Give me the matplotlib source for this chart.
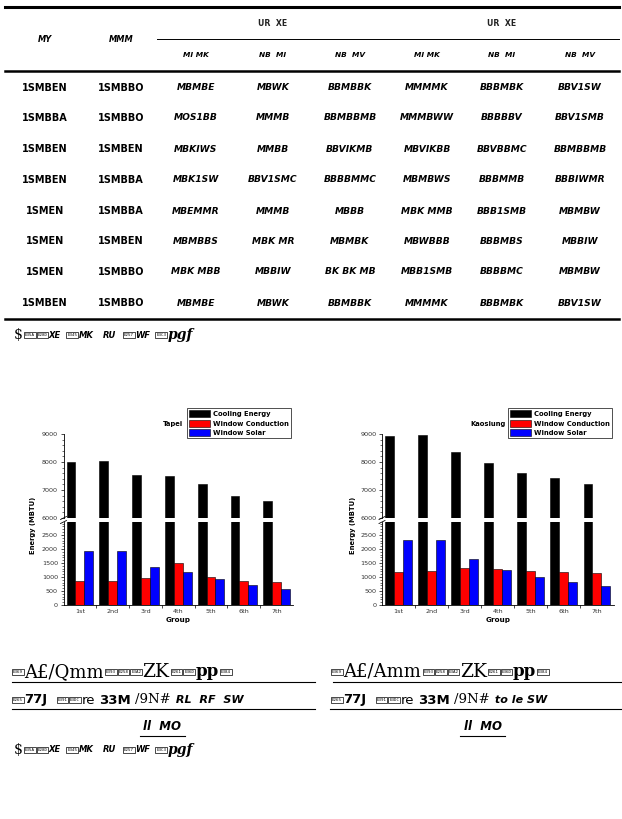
import matplotlib
matplotlib.use('Agg')
import numpy as np
import matplotlib.pyplot as plt
from matplotlib import font_manager
from matplotlib.lines import Line2D
from matplotlib.ticker import MultipleLocator, FixedLocator, NullLocator

W, H = 622, 819

# chart data
groups = ['1st', '2nd', '3rd', '4th', '5th', '6th', '7th']
series_names = ['Cooling Energy', 'Window Conduction', 'Window Solar']
series_colors = ['black', 'red', 'blue']

tapei_cooling = [8000, 8030, 7550, 7510, 7200, 6770, 6600]
tapei_conduction = [850, 870, 960, 1510, 990, 850, 820]
tapei_solar = [1930, 1930, 1370, 1180, 930, 700, 560]

kaosiung_cooling = [8920, 8960, 8360, 7950, 7600, 7420, 7220]
kaosiung_conduction = [1180, 1210, 1310, 1280, 1200, 1170, 1130]
kaosiung_solar = [2310, 2320, 1630, 1250, 990, 820, 680]

# table text, as it shows in the scan (font glyphs are garbled)
head_left = ['MY', 'MMM']
head_group = ['UR  XE', 'UR  XE']
head_sub = ['MI MK', 'NB  MI', 'NB  MV', 'MI MK', 'NB  MI', 'NB  MV']
col_a = ['1SMBEN', '1SMBBA', '1SMBEN', '1SMBEN', '1SMEN', '1SMEN', '1SMEN', '1SMBEN']
col_b = ['1SMBBO', '1SMBBO', '1SMBEN', '1SMBBA', '1SMBBA', '1SMBEN', '1SMBBO', '1SMBBO']
cells = [
    ['MBMBE', 'MBWK', 'BBMBBK', 'MMMMK', 'BBBMBK', 'BBV1SW'],
    ['MOS1BB', 'MMMB', 'BBMBBMB', 'MMMBWW', 'BBBBBV', 'BBV1SMB'],
    ['MBKIWS', 'MMBB', 'BBVIKMB', 'MBVIKBB', 'BBVBBMC', 'BBMBBMB'],
    ['MBK1SW', 'BBV1SMC', 'BBBBMMC', 'MBMBWS', 'BBBMMB', 'BBBIWMR'],
    ['MBEMMR', 'MMMB', 'MBBB', 'MBK MMB', 'BBB1SMB', 'MBMBW'],
    ['MBMBBS', 'MBK MR', 'MBMBK', 'MBWBBB', 'BBBMBS', 'MBBIW'],
    ['MBK MBB', 'MBBIW', 'BK BK MB', 'MBB1SMB', 'BBBBMC', 'MBMBW'],
    ['MBMBE', 'MBWK', 'BBMBBK', 'MMMMK', 'BBBMBK', 'BBV1SW'],
]

names = {f.name for f in font_manager.fontManager.ttflist}
if 'Liberation Sans Narrow' in names:
    narrow, cell_size, first_size = 'Liberation Sans Narrow', 9, 9.5
else:
    narrow, cell_size, first_size = 'DejaVu Sans', 6.6, 7

fig = plt.figure(figsize=(W / 100, H / 100), dpi=100)


def px(x, y):
    return x / W, 1 - y / H


def hline(x0, x1, y, lw):
    fig.add_artist(Line2D([x0 / W, x1 / W], [1 - y / H, 1 - y / H], color='black', lw=lw))


# ---- table ----
hline(5, 619, 7, 2.2)
hline(157, 619, 39, 0.7)
hline(5, 619, 71, 1.8)
hline(5, 619, 319, 1.8)

col_x = [45, 121, 196, 273, 350, 427, 502, 580]
row_y = [88, 118, 149, 180, 211, 241, 272, 303]

for x, s in zip(col_x[:2], head_left):
    fig.text(*px(x, 39), s, ha='center', va='center', family=narrow, fontsize=cell_size * 0.9,
             style='italic', weight='bold')
for x, s in zip([273, 502], head_group):
    fig.text(*px(x, 24), s, ha='center', va='center', family=narrow, fontsize=cell_size * 0.85,
             weight='bold', color='#222222')
for x, s in zip(col_x[2:], head_sub):
    fig.text(*px(x, 55), s, ha='center', va='center', family=narrow, fontsize=cell_size * 0.8,
             style='italic', weight='bold')
for i, y in enumerate(row_y):
    fig.text(*px(col_x[0], y), col_a[i], ha='center', va='center', family=narrow,
             fontsize=first_size, weight='bold')
    fig.text(*px(col_x[1], y), col_b[i], ha='center', va='center', family=narrow,
             fontsize=first_size, weight='bold')
    for j, s in enumerate(cells[i]):
        fig.text(*px(col_x[j + 2], y), s, ha='center', va='center', family=narrow,
                 fontsize=cell_size, style='italic', weight='bold')


# ---- garbled caption runs ----
renderer = fig.canvas.get_renderer()
serif = dict(family='DejaVu Serif')


def run(x, y, tokens):
    for tok in tokens:
        kind = tok[0]
        if kind == 'gap':
            x += tok[1]
            continue
        if kind == 'box':
            t = fig.text(*px(x + 1, y), tok[1], fontsize=3.0, family='DejaVu Sans Mono',
                         ha='left', va='center',
                         bbox=dict(boxstyle='square,pad=0.2', fc='white', ec='black', lw=0.5))
            x += t.get_window_extent(renderer).width + 2.5
        else:
            kw = dict(tok[2])
            t = fig.text(*px(x, y + kw.pop('dy', 0)), tok[1], ha='left', va='center', **kw)
            x += t.get_window_extent(renderer).width + 1


def caption(x0, y_mid, first, tail):
    run(x0, 672, [('box', 'E369'), ('txt', first, dict(fontsize=13, **serif)),
                  ('box', 'E393'), ('box', 'E258'), ('box', 'E3A2'),
                  ('txt', 'ZK', dict(fontsize=13.5, **serif)),
                  ('box', 'E261'), ('box', 'E36D'),
                  ('txt', 'pp', dict(fontsize=12, weight='bold', **serif)),
                  ('box', 'E384')])
    run(x0, 700, [('box', 'E265'), ('txt', '77J', dict(fontsize=9.5, weight='bold')),
                  ('gap', 8), ('box', 'E391'), ('box', 'E3DC'),
                  ('txt', 're', dict(fontsize=9.5)),
                  ('gap', 3),
                  ('txt', '33M', dict(fontsize=9.5, weight='bold')),
                  ('gap', 3),
                  ('txt', '/9N#', dict(fontsize=9.5, **serif)),
                  ('txt', tail, dict(fontsize=8, family=narrow, weight='bold', style='italic'))])
    fig.text(*px(y_mid, 727), 'll  MO', ha='center', va='center', fontsize=8.5,
             family=narrow, weight='bold', style='italic')


def dollar_line(y):
    run(14, y, [('txt', '$', dict(fontsize=10, **serif)), ('box', 'E35A'), ('box', 'E28D'),
                ('txt', 'XE', dict(fontsize=6, family=narrow, weight='bold', style='italic')),
                ('gap', 4), ('box', 'E345'),
                ('txt', 'MK', dict(fontsize=6, family=narrow, weight='bold', style='italic')),
                ('gap', 8),
                ('txt', 'RU', dict(fontsize=6, family=narrow, weight='bold', style='italic')),
                ('gap', 6), ('box', 'E257'),
                ('txt', 'WF', dict(fontsize=6, family=narrow, weight='bold', style='italic')),
                ('gap', 4), ('box', 'E3C3'),
                ('txt', 'pgf', dict(fontsize=10, weight='bold', style='italic', **serif))])


dollar_line(335)
caption(12, 162, 'A£/Qmm', ' RL  RF  SW')
caption(331, 483, 'A£/Amm', ' to le SW')
hline(12, 315, 682, 0.8)
hline(12, 315, 709, 0.8)
hline(333, 622, 682, 0.8)
hline(330, 622, 709, 0.8)
hline(140, 185, 736, 0.8)
hline(460, 505, 736, 0.8)
dollar_line(750)


# ---- broken-axis bar charts ----
def chart(x0, x1, title, title_x, ylabel_x, legend_x, cooling, conduction, solar):
    top, brk_hi, brk_lo, bottom = 434, 518, 522, 605
    ax_up = fig.add_axes([x0 / W, 1 - brk_hi / H, (x1 - x0) / W, (brk_hi - top) / H])
    ax_lo = fig.add_axes([x0 / W, 1 - bottom / H, (x1 - x0) / W, (bottom - brk_lo) / H])
    x = np.arange(len(groups))
    w = 0.27
    for ax in (ax_up, ax_lo):
        for k, vals in enumerate([cooling, conduction, solar]):
            ax.bar(x + (k - 1) * w, vals, w, color=series_colors[k], edgecolor='black',
                   linewidth=0.4, label=series_names[k])
        ax.set_xlim(-0.5, len(groups) - 0.5)
        ax.spines['top'].set_visible(False)
        ax.spines['right'].set_visible(False)
        ax.spines['left'].set_linewidth(0.6)
        ax.spines['bottom'].set_linewidth(0.6)
        ax.tick_params(axis='y', which='major', direction='out', length=2.5, width=0.5,
                       labelsize=4.6, labelcolor='#333333', pad=1.5)
        ax.tick_params(axis='y', which='minor', direction='out', length=1.3, width=0.4)
    ax_up.set_ylim(6000, 9000)
    ax_up.yaxis.set_major_locator(MultipleLocator(1000))
    ax_up.yaxis.set_minor_locator(MultipleLocator(200))
    ax_up.spines['bottom'].set_visible(False)
    ax_up.xaxis.set_major_locator(NullLocator())
    ax_up.xaxis.set_minor_locator(NullLocator())

    ax_lo.set_ylim(0, 2960)
    ax_lo.yaxis.set_major_locator(MultipleLocator(500))
    ax_lo.yaxis.set_minor_locator(MultipleLocator(100))
    ax_lo.set_xticks(x)
    ax_lo.set_xticklabels(groups)
    ax_lo.xaxis.set_minor_locator(FixedLocator(x[:-1] + 0.5))
    ax_lo.tick_params(axis='x', which='major', length=0, labelsize=4.6,
                      labelcolor='#333333', pad=3)
    ax_lo.tick_params(axis='x', which='minor', direction='out', length=2.5, width=0.5)
    ax_lo.set_xlabel('Group', fontsize=5.2, weight='bold', labelpad=2)

    # break marks on the y axis
    for yb in (brk_hi, brk_lo):
        fig.add_artist(Line2D([(x0 - 3) / W, (x0 + 3) / W],
                              [1 - (yb + 1.5) / H, 1 - (yb - 1.5) / H], color='black', lw=0.6))

    fig.text(*px(ylabel_x, 525), 'Energy (MBTU)', rotation=90, ha='center', va='center',
             fontsize=4.9, weight='bold')
    fig.text(*px(title_x, 424), title, ha='center', va='center', fontsize=4.9, weight='bold')

    handles, labels = ax_up.get_legend_handles_labels()
    leg = ax_up.legend(handles, labels, loc='upper left', bbox_to_anchor=px(legend_x, 408),
                       bbox_transform=fig.transFigure, borderaxespad=0, frameon=True,
                       fancybox=False, edgecolor='black', fontsize=4.9, handlelength=3.0,
                       handleheight=1.15, labelspacing=0.4, handletextpad=0.4,
                       borderpad=0.35)
    leg.get_frame().set_linewidth(0.6)
    for t in leg.get_texts():
        t.set_fontweight('bold')


chart(63.5, 293, 'Tapei', 173, 33, 187, tapei_cooling, tapei_conduction, tapei_solar)
chart(382, 613.5, 'Kaosiung', 488, 353, 508, kaosiung_cooling, kaosiung_conduction, kaosiung_solar)

fig.savefig('out.png', dpi=100)
